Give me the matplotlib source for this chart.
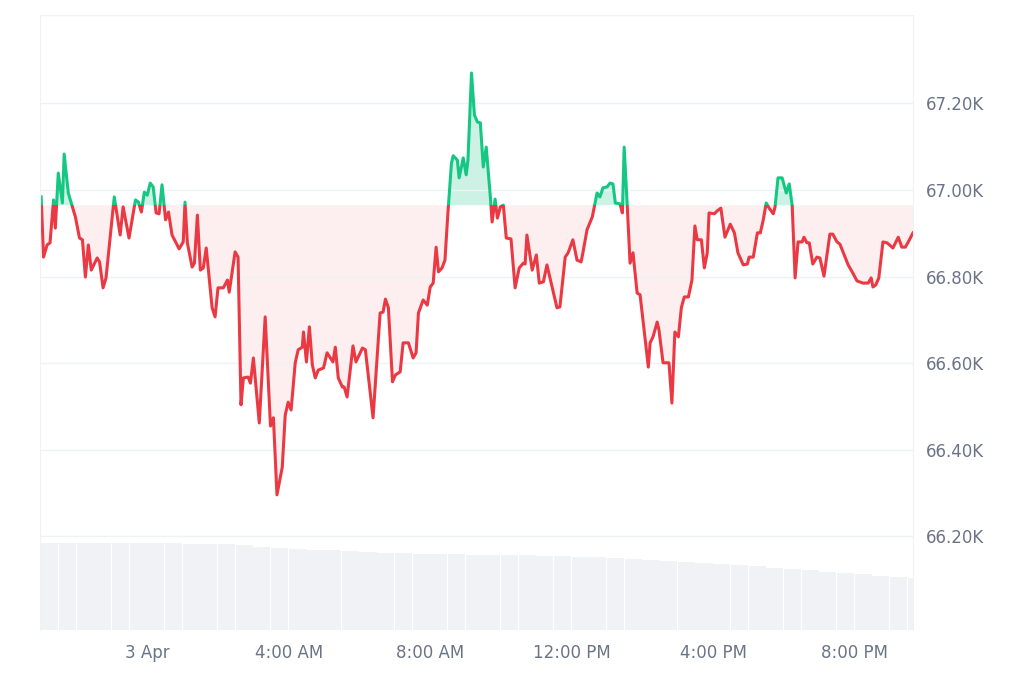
import matplotlib
matplotlib.use("Agg")
import matplotlib.pyplot as plt
import numpy as np
from matplotlib.patches import Rectangle

# minutes from 3 Apr 00:00
minutes = [-180,-176,-170,-165,-159,-156,-151,-144,-141,-134,-122,-115,-110,-105,-100,-95,-85,-81,-75,-70,
 -56,-46,-41,-31,-20,-15,-10,-5,0,5,10,15,20,25,31,36,42,54,61,64,68,76,80,85,90,95,100,110,115,120,
 129,136,139,149,154,159,163,171,175,180,190,200,209,214,220,229,234,239,244,251,256,263,265,270,275,280,285,290,299,305,
 315,319,324,331,334,339,349,354,365,370,383,395,400,404,409,416,421,429,434,443,451,456,460,468,475,480,485,490,494,500,
 505,510,516,519,526,529,536,541,544,550,555,560,565,570,575,582,585,590,594,599,604,609,617,624,631,638,641,644,653,660,
 665,672,678,695,700,709,714,722,729,736,739,746,755,763,768,773,780,785,790,794,802,806,809,814,819,824,831,836,850,853,
 858,865,868,875,882,885,890,895,901,906,911,918,924,929,933,940,945,950,953,962,967,973,980,989,996,1002,1011,1018,1021,1028,
 1035,1040,1045,1050,1055,1062,1065,1070,1077,1084,1089,1094,1099,1104,1111,1114,1119,1123,1129,1136,1141,1148,1158,1163,1170,1175,
 1189,1197,1204,1214,1223,1228,1231,1236,1241,1248,1255,1265,1274,1280,1286,1291,1299]
prices = [66984,66845,66873,66878,66977,66912,67039,66970,67083,66993,66938,66889,66885,66799,66873,66815,66843,66834,66774,66797,
 66984,66896,66961,66889,66977,66972,66949,66995,66988,67016,67007,66947,66945,67012,66931,66949,66896,66864,66880,66972,66878,66822,66831,66942,66815,66820,66866,66728,66707,66774,
 66774,66792,66764,66857,66845,66504,66566,66568,66554,66612,66462,66707,66455,66474,66296,66360,66480,66510,66492,66601,66631,66637,66672,66603,66684,66596,66566,66584,66589,66624,
 66603,66637,66566,66545,66545,66522,66640,66603,66635,66631,66474,66716,66718,66748,66728,66557,66573,66580,66647,66647,66612,66624,66716,66746,66734,66776,66785,66868,66811,66820,
 66838,66947,67062,67079,67069,67028,67074,67035,67069,67270,67173,67157,67155,67053,67099,66984,66926,66979,66935,66961,66965,66889,66887,66774,66820,66831,66829,66896,66815,66850,
 66785,66788,66827,66728,66730,66845,66855,66885,66838,66834,66855,66908,66938,66993,66984,67005,67007,67016,67014,66970,66968,66947,67099,66970,66831,66855,66762,66758,66591,66647,
 66661,66695,66677,66601,66601,66601,66508,66672,66661,66728,66753,66753,66792,66917,66885,66885,66820,66855,66947,66945,66952,66958,66891,66921,66901,66855,66827,66829,66845,66845,
 66901,66901,66931,66970,66958,66945,66961,67028,67028,66993,67014,66965,66797,66880,66880,66891,66878,66878,66829,66845,66843,66801,66898,66898,66880,66875,
 66827,66808,66790,66785,66785,66797,66776,66781,66797,66880,66878,66866,66891,66868,66868,66880,66901]
baseline = 66965

# volume (billions USD, 24h rolling), sampled every 30 minutes
vol_minutes = [-180,-150,-120,-90,-60,-30,0,30,60,90,120,150,180,210,240,270,300,330,360,390,420,450,480,510,540,570,
 600,630,660,690,720,750,780,810,840,870,900,930,960,990,1020,1050,1080,1110,1140,1170,1200,1230,1260,1290]
volumes = [31.5,31.5,31.5,31.5,31.5,31.5,31.5,31.4,31.3,31.2,31.0,30.6,30.0,29.6,29.3,29.0,28.8,28.5,28.2,28.0,27.8,27.6,27.5,27.4,27.3,27.3,
 27.2,27.1,26.9,26.7,26.5,26.3,26.1,25.8,25.4,25.0,24.7,24.3,24.0,23.6,23.1,22.6,22.1,21.6,21.1,20.6,20.1,19.6,19.1,18.8]

price_ticks = [66200, 66400, 66600, 66800, 67000, 67200]
price_labels = ["66.20K", "66.40K", "66.60K", "66.80K", "67.00K", "67.20K"]
time_ticks = [0, 240, 480, 720, 960, 1200]
time_labels = ["3 Apr", "4:00 AM", "8:00 AM", "12:00 PM", "4:00 PM", "8:00 PM"]

GREEN = "#16c784"
RED = "#ea3943"
GRAY = "#6b7487"

fig = plt.figure(figsize=(10.24, 6.83), dpi=100)
W, H = 1024, 683
rect = [40 / W, (H - 630) / H, (913 - 40) / W, (630 - 15) / H]
xmin, xmax = -182, 1299

axv = fig.add_axes(rect, zorder=0)
axv.bar(vol_minutes, volumes, width=29, align="edge", color="#f0f2f5", linewidth=0)
axv.set_xlim(xmin, xmax)
axv.set_ylim(0, 31.5 * 615 / 87)
axv.axis("off")

ax = fig.add_axes(rect, zorder=1)
ax.patch.set_alpha(0)
x = np.array(minutes)
y = np.array(prices)
ax.fill_between(x, y, baseline, where=y >= baseline, interpolate=True, color=GREEN, alpha=0.22, linewidth=0)
ax.fill_between(x, y, baseline, where=y <= baseline, interpolate=True, color=RED, alpha=0.08, linewidth=0)
ylo, yhi = 65984, 67404
l1, = ax.plot(x, y, color=GREEN, lw=2.2, solid_joinstyle="round")
l2, = ax.plot(x, y, color=RED, lw=2.2, solid_joinstyle="round")
ax.set_xlim(xmin, xmax)
ax.set_ylim(ylo, yhi)
r1 = Rectangle((xmin, baseline), xmax - xmin, yhi - baseline, transform=ax.transData)
r2 = Rectangle((xmin, ylo), xmax - xmin, baseline - ylo, transform=ax.transData)
l1.set_clip_path(r1)
l2.set_clip_path(r2)

ax.set_yticks(price_ticks)
ax.set_yticklabels(price_labels)
ax.yaxis.tick_right()
ax.set_xticks(time_ticks)
ax.set_xticklabels(time_labels)
ax.tick_params(axis="both", length=0, labelsize=12, colors=GRAY, pad=10)
ax.tick_params(axis="y", pad=9)
ax.grid(axis="y", color="#eff2f5", lw=1)
for s in ["top", "bottom"]:
    ax.spines[s].set_visible(False)
ax.spines["left"].set_color("#eff2f5")
ax.spines["right"].set_color("#eff2f5")
ax.axhline(yhi, color="#eff2f5", lw=1)

fig.savefig("out.png", dpi=100)
